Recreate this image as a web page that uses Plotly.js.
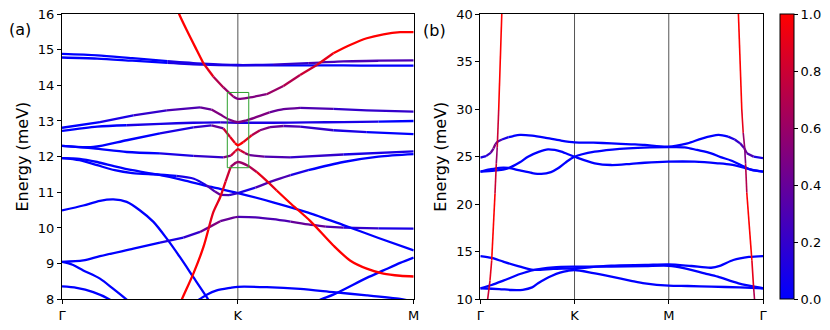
<!DOCTYPE html>
<html>
<head>
<meta charset="utf-8">
<script src="https://cdn.plot.ly/plotly-3.0.1.min.js"></script>
<style>html,body{margin:0;padding:0;background:#fff}#plot{width:830px;height:330px}</style>
</head>
<body>
<div id="plot"></div>
<script>
// k-path tick labels
var pathA = ["Γ", "K", "M"];
var pathB = ["Γ", "K", "M", "Γ"];
var cbTicks = [0, 0.2, 0.4, 0.6, 0.8, 1.0];
// zoom box around K in panel (a): [k0, k1, E0, E1]
var zoomBox = [0.94, 1.062, 11.69, 13.80];

// bands, each point = [k, energy (meV), weight]
// panel (a)
var aTop1 = [[0,14.88,0],[.2,14.84,0],[.4,14.76,0],[.6,14.68,0],[.8,14.61,.1],[1,14.57,.1],[1.2,14.58,.1],[1.4,14.62,.25],[1.6,14.67,.3],[1.8,14.69,.25],[2,14.70,.25]];
var aTop2 = [[0,14.78,0],[.2,14.75,0],[.4,14.69,0],[.6,14.63,0],[.8,14.58,.1],[1,14.56,.1],[1.2,14.56,0],[1.4,14.56,0],[1.6,14.56,0],[1.8,14.55,0],[2,14.55,0]];
var aHump = [[0,12.81,0],[.216,12.97,.05],[.406,13.16,.12],[.596,13.30,.25],[.785,13.38,.4],[.85,13.32,.45],[.9,13.18,.5],[.95,13.04,.5],[1,12.97,.5],[1.05,13.02,.5],[1.1,13.1,.5],[1.18,13.24,.45],[1.26,13.33,.4],[1.354,13.37,.35],[1.543,13.34,.25],[1.733,13.30,.2],[2,13.26,.15]];
var aFlat = [[0,12.72,0],[.2,12.84,0],[.368,12.88,0],[.56,12.92,.1],[.747,12.95,.1],[.9,12.96,.15],[1,12.95,.15],[1.2,12.95,.1],[1.4,12.96,.1],[1.6,12.97,.1],[1.8,12.98,0],[2,13.0,0]];
var aVee = [[0,12.30,0],[.178,12.27,0],[.368,12.46,0],[.557,12.65,0],[.747,12.82,.1],[.85,12.88,.2],[.918,12.79,.6],[.956,12.55,.9],[.984,12.38,.95],[1,12.32,.95],[1.031,12.41,.95],[1.079,12.60,.85],[1.126,12.74,.6],[1.183,12.83,.45],[1.26,12.86,.3],[1.354,12.84,.2],[1.543,12.74,.1],[1.733,12.69,0],[2,12.63,0]];
var aCap = [[0,12.30,0],[.178,12.23,0],[.368,12.13,0],[.557,12.09,0],[.747,12.02,.1],[.918,11.98,.3],[.96,12.03,.7],[.985,12.15,.9],[1,12.21,.95],[1.015,12.17,.9],[1.04,12.10,.7],[1.069,12.04,.5],[1.15,12.0,.35],[1.297,11.98,.2],[1.6,12.06,.1],[2,12.15,0]];
var aSlope = [[0,11.96,0],[.1,11.94,0],[.2,11.85,0],[.3,11.73,0],[.4,11.62,0],[.54,11.5,0],[.7,11.33,0],[.85,11.15,0],[1,10.98,0],[1.2,10.72,0],[1.4,10.43,0],[1.6,10.08,0],[1.8,9.72,0],[2,9.37,0]];
var aDip = [[0,11.96,0],[.1,11.9,0],[.2,11.76,0],[.3,11.62,0],[.4,11.54,0],[.54,11.5,0],[.65,11.46,0],[.75,11.38,.1],[.82,11.2,.15],[.87,11.02,.4],[.9,10.93,.45],[.95,10.92,.2],[1,10.98,.1],[1.1,11.13,.15],[1.2,11.32,.4],[1.3,11.48,.15],[1.4,11.62,0],[1.6,11.85,0],[1.8,12.0,0],[2,12.07,0]];
var aArch = [[0,10.49,0],[.121,10.63,0],[.216,10.76,0],[.292,10.80,0],[.368,10.73,0],[.444,10.49,0],[.52,10.17,0],[.596,9.70,0],[.671,9.18,0],[.747,8.62,0],[.823,8.06,0],[.84,7.92,0]];
var aRise = [[0,9.05,0],[.121,9.09,0],[.216,9.21,0],[.406,9.42,0],[.557,9.59,0],[.69,9.73,.1],[.785,9.89,.2],[.832,10.01,.5],[.9,10.19,.4],[.975,10.29,.35],[1,10.31,.35],[1.1,10.30,.3],[1.2,10.25,.3],[1.3,10.18,.35],[1.4,10.10,.45],[1.5,10.04,.4],[1.6,10.01,.2],[1.8,9.99,.1],[2,9.98,0]];
var aLow1 = [[.76,7.93,0],[.785,8.01,0],[.823,8.13,0],[.88,8.25,0],[.956,8.32,0],[1,8.35,0],[1.164,8.34,0],[1.354,8.29,0],[1.543,8.20,0],[1.733,8.11,0],[1.923,8.01,0],[1.96,7.98,0]];
var aLow2 = [[0,9.05,0],[.06,8.97,0],[.121,8.81,0],[.216,8.58,0],[.292,8.29,0],[.368,7.99,0],[.38,7.94,0]];
var aLow3 = [[0,8.36,0],[.083,8.32,0],[.178,8.20,0],[.273,7.99,0],[.29,7.93,0]];
var aLow4 = [[1.44,7.9,0],[1.468,7.99,0],[1.543,8.13,0],[1.733,8.60,0],[1.828,8.81,0],[1.923,9.02,0],[2,9.17,0]];
var aRed1 = [[.655,16.15,1],[.666,16.0,1],[.709,15.55,1],[.766,14.99,1],[.804,14.62,.95],[.861,14.24,.8],[.918,13.94,.6],[.975,13.68,.5],[1,13.62,.5],[1.069,13.66,.5],[1.164,13.75,.55],[1.259,13.98,.6],[1.354,14.29,.75],[1.449,14.57,.9],[1.543,14.90,.95],[1.638,15.13,1],[1.733,15.32,1],[1.828,15.43,1],[1.923,15.49,1],[2,15.49,1]];
var aRed2 = [[.67,7.85,1],[.681,7.99,1],[.747,8.72,1],[.804,9.46,1],[.832,9.95,.9],[.861,10.45,.95],[.9,10.87,.9],[.93,11.3,.9],[.96,11.72,.65],[1,11.85,.5],[1.06,11.74,.6],[1.107,11.57,.8],[1.164,11.32,.95],[1.221,11.05,.9],[1.297,10.7,1],[1.411,10.2,.9],[1.543,9.51,1],[1.638,9.09,1],[1.733,8.86,1],[1.828,8.72,1],[1.923,8.66,1],[2,8.64,1]];

// panel (b)
var bTop = [[0,24.89,0],[.06,25.05,.1],[.11,25.4,.25],[.14,25.85,.45],[.16,26.3,.5],[.185,26.6,.35],[.23,26.8,.15],[.3,27.05,0],[.35,27.17,0],[.421,27.28,0],[.55,27.2,0],[.683,27.0,0],[.85,26.7,0],[1,26.5,0],[1.2,26.47,0],[1.39,26.4,0],[1.6,26.3,0],[1.745,26.23,0],[1.99,26.05,0],[2.2,26.4,0],[2.35,26.9,0],[2.527,27.28,0],[2.63,27.1,0],[2.7,26.8,.1],[2.757,26.4,.2],[2.8,25.9,.45],[2.828,25.35,.4],[2.9,25.0,.15],[3,24.85,0]];
var bMid1 = [[0,23.42,0],[.15,23.52,0],[.3,23.8,0],[.42,24.4,0],[.506,24.99,0],[.62,25.5,0],[.719,25.77,0],[.79,25.7,0],[.86,25.52,0],[1,24.99,0],[1.214,24.3,0],[1.39,24.12,0],[1.6,24.25,0],[1.745,24.36,0],[1.99,24.47,0],[2.275,24.47,0],[2.52,24.3,0],[2.66,24.15,0],[2.81,23.8,0],[2.9,23.58,0],[3,23.42,0]];
var bMid2 = [[0,23.42,0],[.1,23.65,0],[.2,23.83,0],[.3,23.82,0],[.42,23.55,0],[.55,23.28,0],[.648,23.18,0],[.75,23.38,0],[.825,23.78,0],[.9,24.35,0],[1,24.99,0],[1.214,25.52,0],[1.4,25.75,0],[1.568,25.88,0],[1.8,25.97,0],[1.99,26.0,0],[2.17,25.98,0],[2.3,25.7,0],[2.45,25.35,0],[2.55,24.95,0],[2.66,24.6,0],[2.8,23.95,0],[2.877,23.6,0],[3,23.42,0]];
var bLow1 = [[0,14.55,0],[.12,14.35,0],[.244,13.96,0],[.422,13.43,0],[.563,13.1,0],[.775,13.2,0],[1,13.26,0],[1.2,13.4,0],[1.39,13.55,0],[1.75,13.62,0],[2,13.68,0],[2.24,13.5,0],[2.45,13.32,0],[2.55,13.55,0],[2.685,14.13,0],[2.85,14.45,0],[3,14.55,0]];
var bLow2 = [[0,11.16,0],[.12,11.5,0],[.244,11.96,0],[.422,12.66,0],[.563,13.08,0],[.775,13.36,0],[1,13.43,0],[1.39,13.43,0],[1.75,13.5,0],[2,13.53,0],[2.17,13.26,0],[2.38,12.73,0],[2.52,12.38,0],[2.74,11.68,0],[3,11.16,0]];
var bLow3 = [[0,11.16,0],[.2,11.08,0],[.33,10.98,0],[.45,11.0,0],[.55,11.25,0],[.613,11.68,0],[.705,12.21,0],[.755,12.45,0],[.846,12.8,0],[.93,13.0,0],[1,13.08,0],[1.2,12.75,0],[1.39,12.38,0],[1.6,11.95,0],[1.745,11.68,0],[2,11.43,0],[2.2,11.4,0],[2.45,11.33,0],[2.75,11.25,0],[3,11.16,0]];
var bRedL = [[.072,9.3,.6],[.078,10,.65],[.103,12,.85],[.121,14.1,.95],[.138,17.6,1],[.156,21.1,1],[.17,24.3,.55],[.18,26,.6],[.195,29.9,.95],[.209,34.5,1],[.227,40,1],[.23,40.6,1]];
var bRedR = [[2.737,40.6,1],[2.739,40,1],[2.757,34.5,1],[2.775,29.9,.95],[2.79,27.5,.75],[2.805,26,.5],[2.815,24.3,.55],[2.828,21.2,.9],[2.856,17.6,1],[2.882,14.1,1],[2.9,11.3,.85],[2.91,10,.6],[2.915,9.4,.55]];

function weightColor(w) {
  return "rgb(" + Math.round(255 * w) + ",0," + Math.round(255 * (1 - w)) + ")";
}

// split a band into pieces of (roughly) constant weight colour
function bandTraces(pts, xa, ya, width, shape) {
  var out = [];
  var seg = function (i) { return Math.round((pts[i][2] + pts[i + 1][2]) * 5) / 10; };
  function push(s, e, c) {
    var part = pts.slice(s, e + 1);
    out.push({
      x: part.map(function (p) { return p[0]; }),
      y: part.map(function (p) { return p[1]; }),
      xaxis: xa, yaxis: ya, type: "scatter", mode: "lines",
      hoverinfo: "skip", showlegend: false,
      line: {color: weightColor(c), width: width, shape: shape, smoothing: 0.8}
    });
  }
  var start = 0, cur = seg(0);
  for (var i = 1; i < pts.length - 1; i++) {
    if (seg(i) !== cur) { push(start, i, cur); start = i; cur = seg(i); }
  }
  push(start, pts.length - 1, cur);
  return out;
}

var traces = [];
[aLow3, aLow2, aLow1, aLow4, aArch, aRise, aSlope, aDip, aCap, aFlat, aVee, aHump, aTop2, aTop1, aRed2, aRed1].forEach(function (b) {
  traces = traces.concat(bandTraces(b, "x", "y", 2.3, "spline"));
});
[bLow3, bLow2, bLow1, bMid1, bMid2, bTop].forEach(function (b) {
  traces = traces.concat(bandTraces(b, "x2", "y2", 2.3, "spline"));
});
[bRedL, bRedR].forEach(function (b) {
  traces = traces.concat(bandTraces(b, "x2", "y2", 1.6, "linear"));
});

// colour bar
traces.push({
  x: [null], y: [null], xaxis: "x2", yaxis: "y2", type: "scatter", mode: "markers",
  hoverinfo: "skip", showlegend: false,
  marker: {
    color: [0], cmin: 0, cmax: 1,
    colorscale: [[0, "rgb(0,0,255)"], [1, "rgb(255,0,0)"]],
    showscale: true,
    colorbar: {
      x: 780 / 830, xanchor: "left", y: 30.7 / 330, yanchor: "bottom",
      len: 285.3 / 330, lenmode: "fraction", thickness: 14, thicknessmode: "pixels",
      xpad: 0, ypad: 0, outlinewidth: 1, outlinecolor: "#000",
      ticks: "outside", ticklen: 4, tickcolor: "#000",
      tickvals: cbTicks, ticktext: cbTicks.map(function (v) { return v.toFixed(1); }),
      tickfont: {size: 13}
    }
  }
});

var axisStyle = {
  showline: true, linecolor: "#000", linewidth: 1, mirror: true,
  ticks: "outside", ticklen: 4, tickwidth: 1, tickcolor: "#000",
  showgrid: false, zeroline: false, fixedrange: true, tickfont: {size: 13}
};
function ax(extra) { return Object.assign({}, axisStyle, extra); }

var yDom = [30.7 / 330, 316 / 330];
var shapes = [];
[1].forEach(function (k) {
  shapes.push({type: "line", xref: "x", yref: "y domain", x0: k, x1: k, y0: 0, y1: 1, layer: "below", line: {color: "#555", width: 1}});
});
[1, 2].forEach(function (k) {
  shapes.push({type: "line", xref: "x2", yref: "y2 domain", x0: k, x1: k, y0: 0, y1: 1, layer: "below", line: {color: "#555", width: 1}});
});
shapes.push({type: "rect", xref: "x", yref: "y", x0: zoomBox[0], x1: zoomBox[1], y0: zoomBox[2], y1: zoomBox[3], line: {color: "#2ca02c", width: 1}});

var layout = {
  width: 830, height: 330,
  margin: {l: 0, r: 0, t: 0, b: 0},
  paper_bgcolor: "#fff", plot_bgcolor: "#fff",
  font: {family: "DejaVu Sans", size: 13, color: "#000"},
  showlegend: false,
  xaxis: ax({domain: [62 / 830, 413.7 / 830], range: [0, 2], tickvals: [0, 1, 2], ticktext: pathA, anchor: "y"}),
  yaxis: ax({domain: yDom, range: [8, 16], dtick: 1, anchor: "x", title: {text: "Energy (meV)", font: {size: 16}, standoff: 5}}),
  xaxis2: ax({domain: [480.3 / 830, 763 / 830], range: [0, 3], tickvals: [0, 1, 2, 3], ticktext: pathB, anchor: "y2"}),
  yaxis2: ax({domain: yDom, range: [10, 40], dtick: 5, anchor: "x2", title: {text: "Energy (meV)", font: {size: 16}, standoff: 5}}),
  shapes: shapes,
  annotations: [
    {text: "(a)", xref: "paper", yref: "paper", x: 20 / 830, y: 1 - 29 / 330, xanchor: "center", yanchor: "middle", showarrow: false, font: {size: 16}},
    {text: "(b)", xref: "paper", yref: "paper", x: 434.7 / 830, y: 1 - 30 / 330, xanchor: "center", yanchor: "middle", showarrow: false, font: {size: 16}}
  ]
};

Plotly.newPlot("plot", traces, layout, {displayModeBar: false, staticPlot: true});
</script>
</body>
</html>
